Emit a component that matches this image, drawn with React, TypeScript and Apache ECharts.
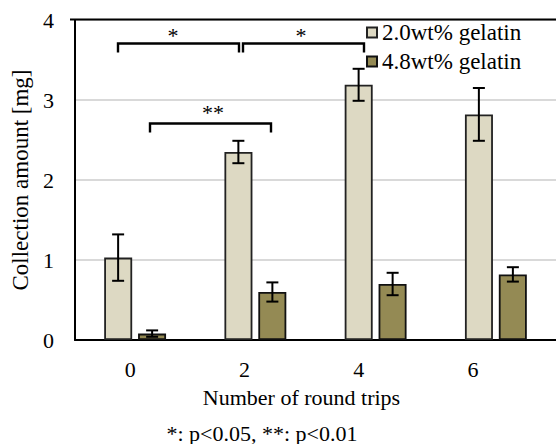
import React, { useEffect, useRef } from "react";
import * as echarts from "echarts";

const categories = ["0", "2", "4", "6"];
const gel20 = [1.03, 2.35, 3.19, 2.82];
const gel20Err = [0.29, 0.14, 0.2, 0.33];
const gel48 = [0.08, 0.6, 0.7, 0.82];
const gel48Err = [0.04, 0.12, 0.14, 0.09];
const seriesNames = ["2.0wt% gelatin", "4.8wt% gelatin"];
const yTicks = { min: 0, max: 4, interval: 1 };

const FONT = "'Liberation Serif', serif";

export default function App() {
  const ref = useRef<HTMLDivElement>(null);
  useEffect(() => {
    if (!ref.current) return;
    const chart = echarts.init(ref.current, undefined, { renderer: "svg" });
    const BAR_W = 28;
    const OFF = 17;
    const errSeries = (vals: number[], errs: number[], off: number) => ({
      type: "custom",
      xAxisIndex: 0,
      yAxisIndex: 0,
      silent: true,
      z: 5,
      data: vals.map((v, i) => [i, v - errs[i], v + errs[i]]),
      renderItem: (params: any, api: any) => {
        const lo = api.coord([api.value(0), api.value(1)]);
        const hi = api.coord([api.value(0), api.value(2)]);
        const x = lo[0] + off;
        const cap = 6;
        const st = { stroke: "#000", lineWidth: 2 };
        return {
          type: "group",
          children: [
            { type: "line", shape: { x1: x, y1: lo[1], x2: x, y2: hi[1] }, style: st },
            { type: "line", shape: { x1: x - cap, y1: lo[1], x2: x + cap, y2: lo[1] }, style: st },
            { type: "line", shape: { x1: x - cap, y1: hi[1], x2: x + cap, y2: hi[1] }, style: st },
          ],
        };
      },
    });
    const bracket = (x1: number, x2: number, y: number, leg: number) => ({
      type: "polyline",
      shape: { points: [[x1, y + leg], [x1, y], [x2, y], [x2, y + leg]] },
      style: { stroke: "#000", lineWidth: 2.4, fill: null },
      z: 20,
    });
    const star = (x: number, y: number, t: string) => ({
      type: "text",
      x,
      y,
      style: { text: t, fontFamily: FONT, fontSize: 22, fill: "#000", align: "center", verticalAlign: "middle" },
      z: 20,
    });
    chart.setOption({
      animation: false,
      grid: [
        { left: 75, top: 20, width: 491, height: 320, containLabel: false },
        { left: 73, top: 20, width: 457, height: 320, containLabel: false },
      ],
      legend: {
        orient: "vertical",
        left: 366,
        top: 21,
        padding: 0,
        itemGap: 6,
        itemWidth: 10,
        itemHeight: 10,
        icon: "rect",
        data: seriesNames,
        textStyle: { fontFamily: FONT, fontSize: 23, color: "#000" },
      },
      xAxis: [
        {
          type: "category",
          gridIndex: 0,
          data: categories,
          axisLine: { lineStyle: { color: "#000", width: 2 } },
          axisTick: { show: false },
          axisLabel: { show: false },
        },
        {
          type: "category",
          gridIndex: 1,
          data: categories,
          axisLine: { show: false },
          axisTick: { show: false },
          axisLabel: { fontFamily: FONT, fontSize: 22, color: "#000", margin: 18 },
          name: "Number of round trips",
          nameLocation: "middle",
          nameGap: 46,
          nameTextStyle: { fontFamily: FONT, fontSize: 22, color: "#000" },
        },
      ],
      yAxis: [
        {
          type: "value",
          gridIndex: 0,
          min: yTicks.min,
          max: yTicks.max,
          interval: yTicks.interval,
          axisLine: { show: true, lineStyle: { color: "#000", width: 2 } },
          axisTick: { show: false },
          axisLabel: { fontFamily: FONT, fontSize: 22, color: "#000", margin: 21 },
          splitLine: { lineStyle: { color: "#d9d9d9", width: 2 } },
          name: "Collection amount [mg]",
          nameLocation: "middle",
          nameGap: 42,
          nameTextStyle: { fontFamily: FONT, fontSize: 23, color: "#000" },
        },
        {
          type: "value",
          gridIndex: 1,
          show: false,
          min: yTicks.min,
          max: yTicks.max,
        },
      ],
      series: [
        {
          name: seriesNames[0],
          type: "bar",
          xAxisIndex: 0,
          yAxisIndex: 0,
          data: gel20,
          barWidth: BAR_W,
          barGap: "21%",
          itemStyle: { color: "#ddd9c3", borderColor: "#222", borderWidth: 1.8 },
        },
        {
          name: seriesNames[1],
          type: "bar",
          xAxisIndex: 0,
          yAxisIndex: 0,
          data: gel48,
          barWidth: BAR_W,
          barGap: "21%",
          itemStyle: { color: "#948a54", borderColor: "#111", borderWidth: 1.8 },
        },
        errSeries(gel20, gel20Err, -OFF),
        errSeries(gel48, gel48Err, OFF),
      ],
      graphic: [
        { type: "line", shape: { x1: 70, y1: 19.5, x2: 556, y2: 19.5 }, style: { stroke: "#000", lineWidth: 2 }, z: 20 },
        bracket(118, 239, 43.5, 9),
        bracket(243, 364, 43.5, 9),
        bracket(150, 271, 123.5, 9),
        star(173, 35, "*"),
        star(301, 35, "*"),
        star(213, 112, "**"),
        {
          type: "text",
          x: 262,
          y: 433,
          style: { text: "*: p<0.05, **: p<0.01", fontFamily: FONT, fontSize: 22, fill: "#000", align: "center", verticalAlign: "middle" },
        },
      ],
    });
    return () => chart.dispose();
  }, []);
  return <div ref={ref} style={{ width: 556, height: 444, position: "absolute", left: 0, top: 0 }} />;
}
